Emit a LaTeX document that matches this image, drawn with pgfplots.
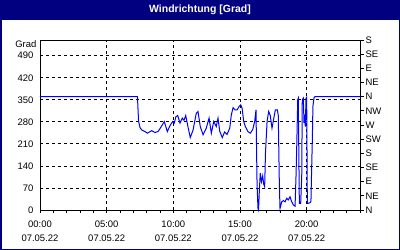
\documentclass[border=0pt]{standalone}
\usepackage{fontspec}
\setmainfont{Liberation Sans}
\usepackage{pgfplots}
\pgfplotsset{compat=1.18}
\definecolor{navy}{RGB}{0,0,128}
\definecolor{lineblue}{RGB}{0,0,255}
\begin{document}
\begin{tikzpicture}
\useasboundingbox (0bp,0bp) rectangle (400bp,250bp);
\fill[white] (0bp,0bp) rectangle (400bp,250bp);
\fill[navy] (0bp,230bp) rectangle (400bp,250bp);
\draw[navy,line width=1.5bp] (0.75bp,0.75bp) rectangle (399.25bp,249.25bp);
\node[text=white,font=\fontsize{10.5}{12}\selectfont\bfseries] at (200bp,240bp) {Windrichtung [Grad]};
\begin{axis}[
  name=main,
  at={(40bp,40bp)}, anchor=south west,
  scale only axis, width=320bp, height=170bp,
  xmin=0, xmax=24, ymin=0, ymax=540,
  axis line style={black,line width=0.8bp},
  font=\fontsize{9.5}{14}\selectfont,
  xtick={0,5,10,15,20},
  xticklabels={{00:00\\07.05.22},{05:00\\07.05.22},{10:00\\07.05.22},{15:00\\07.05.22},{20:00\\07.05.22}},
  xticklabel style={align=center,yshift=-4bp},
  minor xtick={0,1,...,24},
  xtick pos=bottom,
  ytick pos=left,
  tick align=outside,
  major tick length=3bp, minor tick length=3bp,
  xtick style={black,line width=0.8bp},
  minor tick style={black,line width=0.8bp},
  ytick style={draw=none},
  ytick={0,70,140,210,280,350,420,490},
  yticklabels={0,70,140,210,280,350,420,490},
  grid=major,
  major grid style={black,line width=0.8bp,dash pattern=on 3bp off 3bp},
  clip=false,
]
\addplot[lineblue,line width=1bp] coordinates {
(0,360) (7.31,360) (7.39,283) (7.50,262) (7.63,254) (7.88,249) (8.05,244)
(8.38,252) (8.63,246) (8.87,250) (9.17,270) (9.32,281) (9.55,249) (9.75,268)
(9.95,281) (10.07,276) (10.20,297) (10.33,300) (10.50,276) (10.67,292) (10.80,285)
(10.93,300) (11.12,260) (11.27,230) (11.48,254) (11.72,307) (11.85,313) (12.02,265)
(12.23,239) (12.47,260) (12.68,292) (12.85,244) (13.03,281) (13.22,265) (13.35,292)
(13.48,250) (13.67,230) (13.85,248) (14.03,240) (14.23,260) (14.35,302) (14.48,325)
(14.63,318) (14.78,318) (14.95,330) (15.05,334) (15.15,325) (15.28,281) (15.40,265)
(15.60,249) (15.77,244) (15.95,255) (16.10,281) (16.20,318) (16.28,80) (16.35,5)
(16.39,0) (16.45,60) (16.52,117) (16.61,90) (16.70,108) (16.78,82) (16.85,74)
(16.91,180) (17.03,281) (17.15,313) (17.27,300) (17.40,260) (17.53,290) (17.65,318)
(17.80,318) (17.87,300) (17.95,85) (18.00,5) (18.13,26) (18.25,30) (18.38,26)
(18.50,37) (18.62,32) (18.75,42) (18.88,26) (19.00,16) (19.13,12) (19.20,106)
(19.25,191) (19.33,350) (19.37,355) (19.45,21) (19.55,21) (19.63,106) (19.67,350)
(19.75,355) (19.80,276) (19.85,290) (19.90,265) (19.95,355) (20.00,358) (20.05,21)
(20.20,22) (20.32,26) (20.36,106) (20.42,215) (20.47,330) (20.55,356) (20.62,360)
(20.75,360) (24,360)
};
\end{axis}
\node[anchor=east,inner sep=0pt,font=\fontsize{9.5}{14}\selectfont] at ([xshift=-3.5bp,yshift=-4bp]main.north west) {Grad};
\begin{axis}[
  at={(40bp,40bp)}, anchor=south west,
  scale only axis, width=320bp, height=170bp,
  xmin=0, xmax=24, ymin=0, ymax=540,
  axis x line=none,
  axis y line*=right,
  axis line style={black,line width=0.8bp},
  font=\fontsize{9.5}{14}\selectfont,
  ytick={0,45,...,540},
  yticklabels={N,NE,E,SE,S,SW,W,NW,N,NE,E,SE,S},
  tick align=outside,
  major tick length=4bp,
  ytick style={black,line width=0.8bp},
  yticklabel style={xshift=-2bp},
]
\end{axis}
\end{tikzpicture}
\end{document}
